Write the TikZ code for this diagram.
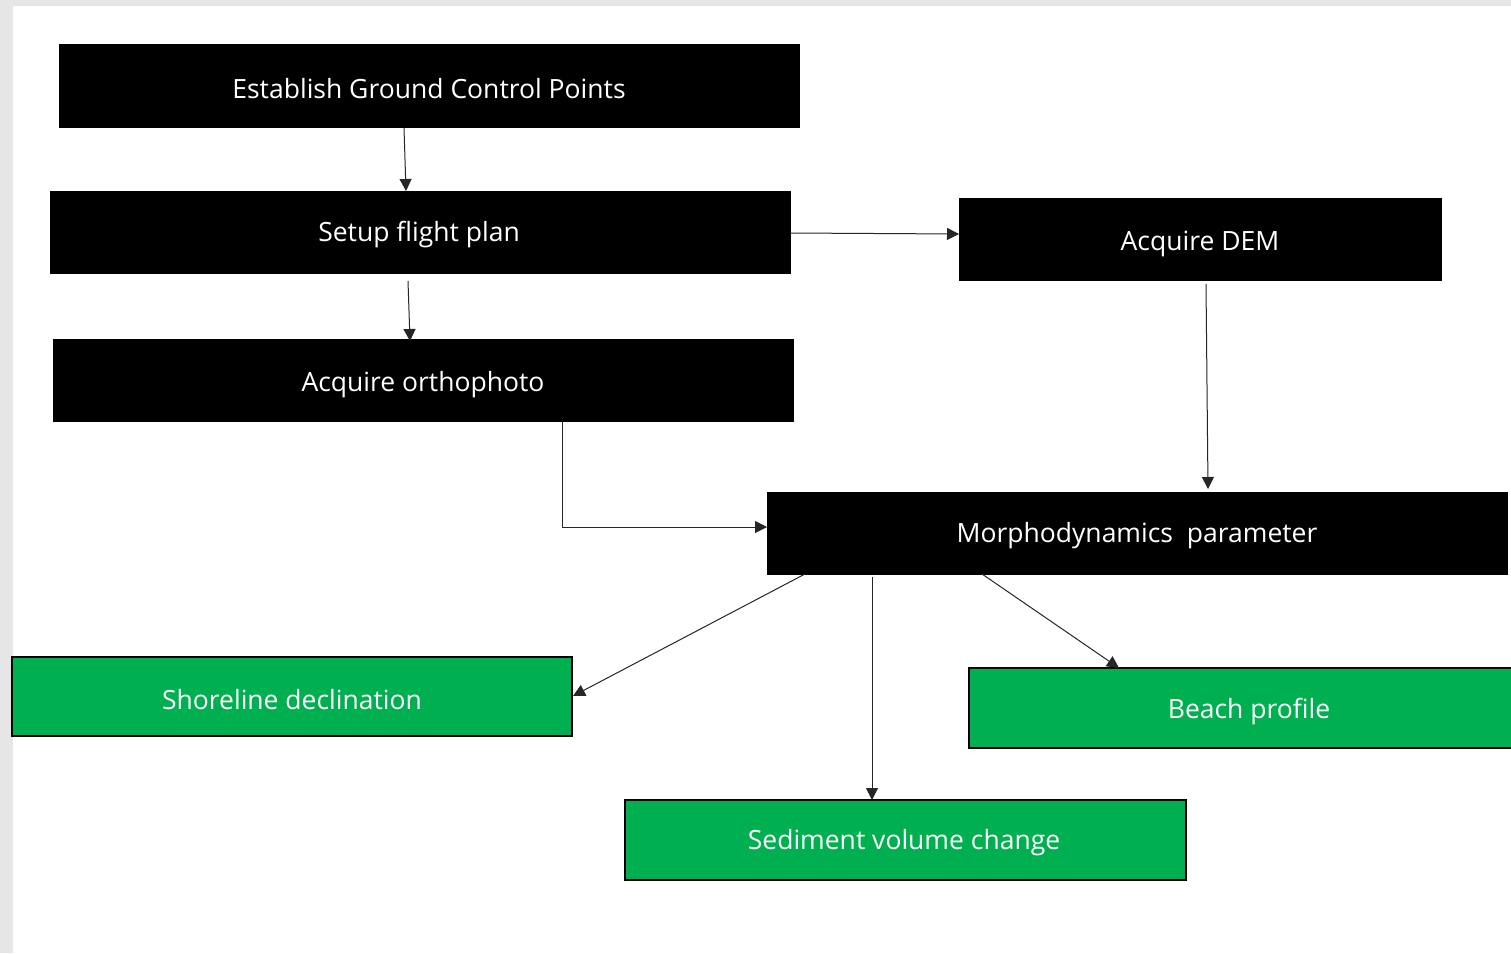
\documentclass[tikz,border=0pt]{standalone}
\usepackage{fontspec}
\setmainfont{Open Sans}
\usetikzlibrary{arrows.meta}
\definecolor{offgreen}{HTML}{00B050}
\definecolor{bordergray}{HTML}{E6E6E6}
\begin{document}
\begin{tikzpicture}[x=1pt,y=-1pt,
  blackbox/.style={fill=black,draw=black},
  greenbox/.style={fill=offgreen,draw=black,line width=2pt},
  label/.style={text=white,font=\fontsize{26.5}{30}\selectfont,yshift=-3pt},
  conn/.style={draw=black!85,line width=1pt,-{Triangle[length=12pt,width=12pt]}}]
\useasboundingbox (0,0) rectangle (1511,953);
\fill[bordergray] (0,0) rectangle (1511,953);
\fill[white] (13,6) rectangle (1511,953);
% boxes
\draw[blackbox] (59,44) rectangle (799,127);
\node[label] (gcp) at (429,86) {Establish Ground Control Points};
\coordinate (gcpB) at (404,128);
\draw[blackbox] (50,191) rectangle (790,273);
\node[label] (setup) at (419,232) {Setup flight plan};
\coordinate (setupT) at (406,191);
\coordinate (setupB) at (408,281);
\coordinate (setupR) at (790,233);
\draw[blackbox] (959,198) rectangle (1441,280);
\node[label] (dem) at (1200,241) {Acquire DEM};
\coordinate (demL) at (959,234);
\coordinate (demB) at (1206,284);
\draw[blackbox] (53,339) rectangle (793,421);
\node[label] (ortho) at (423,382) {Acquire orthophoto};
\coordinate (orthoT) at (410,341);
\coordinate (orthoB) at (562,421);
\draw[blackbox] (767,492) rectangle (1507,574);
\node[label] (morph) at (1137,533) {Morphodynamics\ \ parameter};
\coordinate (morphT) at (1208,489);
\coordinate (morphL) at (767,527);
\coordinate (morphA) at (805,574);
\coordinate (morphB) at (872,577);
\coordinate (morphC) at (982,574);
\draw[greenbox] (12,657) rectangle (572,736);
\node[label] (shore) at (292,697) {Shoreline declination};
\coordinate (shoreR) at (573,696);
\draw[greenbox] (969,668) rectangle (1520,748);
\node[label] (beach) at (1249,709) {Beach profile};
\coordinate (beachT) at (1119,668);
\draw[greenbox] (625,800) rectangle (1186,880);
\node[label] (sed) at (904,840) {Sediment volume change};
\coordinate (sedT) at (872,800);
% connectors
\draw[conn] (gcpB) -- (setupT);
\draw[conn] (setupB) -- (orthoT);
\draw[conn] (setupR) -- (demL);
\draw[conn] (demB) -- (morphT);
\draw[conn] (orthoB) |- (morphL);
\draw[conn] (morphA) -- (shoreR);
\draw[conn] (morphB) -- (sedT);
\draw[conn] (morphC) -- (beachT);
\end{tikzpicture}
\end{document}
